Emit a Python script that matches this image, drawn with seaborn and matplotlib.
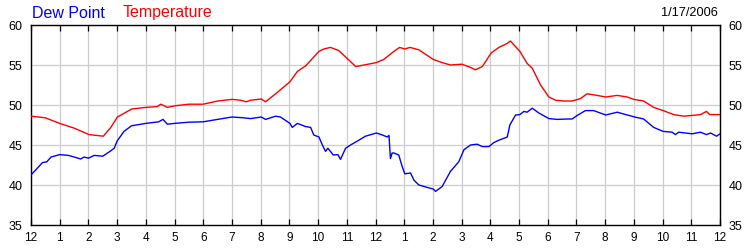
import matplotlib
matplotlib.use("Agg")
import matplotlib.pyplot as plt
import seaborn as sns
import pandas as pd

# ---- data (hours since midnight, degrees F) ----
temp_hours = [0, 0.5, 1.0, 1.51, 2.02, 2.52, 2.78, 3.01, 3.51, 4.0, 4.4, 4.52, 4.75, 5.01, 5.5, 6.0,
              6.5, 7.0, 7.3, 7.5, 7.65, 8.02, 8.17, 8.52, 9.02, 9.28, 9.57, 10.03, 10.2, 10.43,
              10.72, 11.02, 11.31, 11.6, 12.03, 12.29, 12.64, 12.84, 13.02, 13.2, 13.51, 14.01,
              14.32, 14.61, 15.01, 15.31, 15.48, 15.72, 16.03, 16.3, 16.59, 16.7, 17.03, 17.28,
              17.46, 17.75, 18.04, 18.27, 18.56, 18.85, 19.14, 19.37, 19.72, 20.02, 20.42, 20.77,
              21.0, 21.34, 21.69, 22.02, 22.39, 22.74, 23.03, 23.32, 23.53, 23.64, 24.0]
temp_vals = [48.6, 48.4, 47.7, 47.1, 46.3, 46.1, 47.2, 48.5, 49.5, 49.7, 49.8, 50.1, 49.7, 49.9, 50.1, 50.1,
             50.5, 50.7, 50.6, 50.4, 50.6, 50.75, 50.4, 51.4, 52.9, 54.2, 54.9, 56.7, 57.0, 57.2,
             56.8, 55.8, 54.8, 55.0, 55.3, 55.7, 56.7, 57.2, 57.0, 57.2, 56.9, 55.7,
             55.3, 55.0, 55.1, 54.7, 54.4, 54.8, 56.5, 57.2, 57.7, 58.0, 56.7, 55.2,
             54.6, 52.5, 51.0, 50.6, 50.5, 50.5, 50.8, 51.4, 51.2, 51.0, 51.2, 51.0,
             50.7, 50.5, 49.7, 49.3, 48.8, 48.6, 48.7, 48.8, 49.2, 48.8, 48.8]

dew_hours = [0, 0.22, 0.4, 0.55, 0.7, 1.0, 1.3, 1.5, 1.73, 1.85, 2.0, 2.2, 2.5, 2.75, 2.9, 3.0, 3.24,
             3.5, 4.0, 4.45, 4.6, 4.75, 5.0, 5.5, 6.0, 6.5, 7.0, 7.4, 7.65, 8.02, 8.17, 8.52, 8.69,
             9.02, 9.1, 9.28, 9.57, 9.74, 9.85, 10.03, 10.15, 10.26, 10.34, 10.53, 10.69, 10.78,
             10.96, 11.13, 11.42, 11.65, 12.03, 12.24, 12.41, 12.47, 12.52, 12.58, 12.64, 12.81,
             12.93, 13.02, 13.22, 13.34, 13.51, 13.8, 14.01, 14.09, 14.32, 14.61, 14.9, 15.08,
             15.31, 15.54, 15.72, 15.95, 16.12, 16.3, 16.59, 16.68, 16.88, 17.03, 17.17, 17.28,
             17.46, 17.69, 18.04, 18.33, 18.68, 18.85, 19.03, 19.31, 19.6, 20.02, 20.42, 20.77,
             21.03, 21.34, 21.69, 22.02, 22.33, 22.45, 22.56, 23.03, 23.32, 23.53, 23.67, 23.88, 24.0]
dew_vals = [41.25, 42.1, 42.8, 42.9, 43.5, 43.8, 43.7, 43.5, 43.25, 43.5, 43.35, 43.7, 43.6, 44.2, 44.6, 45.5, 46.7,
            47.4, 47.7, 47.9, 48.2, 47.6, 47.7, 47.85, 47.9, 48.2, 48.5, 48.4, 48.3, 48.5, 48.2, 48.6, 48.5,
            47.7, 47.2, 47.7, 47.3, 47.2, 46.25, 46.0, 45.0, 44.2, 44.6, 43.75, 43.8, 43.2,
            44.6, 45.0, 45.6, 46.1, 46.5, 46.25, 46.0, 46.2, 43.3, 44.0, 44.0, 43.75,
            42.3, 41.4, 41.5, 40.6, 40.0, 39.7, 39.5, 39.2, 39.8, 41.7, 42.9, 44.4,
            45.0, 45.1, 44.8, 44.8, 45.3, 45.6, 46.0, 47.5, 48.75, 48.8, 49.2, 49.1,
            49.6, 49.0, 48.3, 48.2, 48.25, 48.25, 48.7, 49.3, 49.3, 48.75, 49.1, 48.75,
            48.5, 48.25, 47.2, 46.7, 46.6, 46.3, 46.6, 46.4, 46.6, 46.3, 46.5, 46.1, 46.4]

x_tick_labels = ["12", "1", "2", "3", "4", "5", "6", "7", "8", "9", "10", "11",
                 "12", "1", "2", "3", "4", "5", "6", "7", "8", "9", "10", "11", "12"]
y_ticks = [35, 40, 45, 50, 55, 60]
date_label = "1/17/2006"

# ---- style ----
sns.set_style("white")
plt.rcParams["font.family"] = ["Liberation Sans", "DejaVu Sans"]

fig = plt.figure(figsize=(7.5, 2.5), dpi=100)
ax = fig.add_axes([31 / 750, 25 / 250, 689 / 750, 200 / 250])

temp_df = pd.DataFrame({"hour": temp_hours, "value": temp_vals})
dew_df = pd.DataFrame({"hour": dew_hours, "value": dew_vals})

sns.lineplot(data=temp_df, x="hour", y="value", ax=ax, color="#ff0000", lw=1.0,
             estimator=None, sort=False, zorder=3)
sns.lineplot(data=dew_df, x="hour", y="value", ax=ax, color="#0000ff", lw=1.0,
             estimator=None, sort=False, zorder=3)

ax.set_xlim(0, 24)
ax.set_ylim(35, 60)
ax.set_xticks(range(25))
ax.set_xticklabels(x_tick_labels)
ax.set_yticks(y_ticks)
ax.set_xlabel("")
ax.set_ylabel("")

ax.grid(True, color="#cccccc", lw=0.9)
ax.set_axisbelow(True)
for s in ax.spines.values():
    s.set_color("black")
    s.set_linewidth(1.0)

ax.tick_params(axis="x", direction="in", length=4, width=0.9, color="black",
               top=True, bottom=True, labelsize=8.5, pad=5, labelcolor="black")
ax.tick_params(axis="y", length=0, left=True, right=True, labelleft=True,
               labelright=True, labelsize=9, pad=6, labelcolor="black")

fig.text(32 / 750, 1 - 13 / 250, "Dew Point", color="#0000ff", fontsize=11.5, va="center", ha="left")
fig.text(123 / 750, 1 - 13 / 250, "Temperature", color="#ff0000", fontsize=11.5, va="center", ha="left")
fig.text(718 / 750, 1 - 13 / 250, date_label, color="black", fontsize=9.2, va="center", ha="right")

fig.savefig("out.png", dpi=100, facecolor="white")
